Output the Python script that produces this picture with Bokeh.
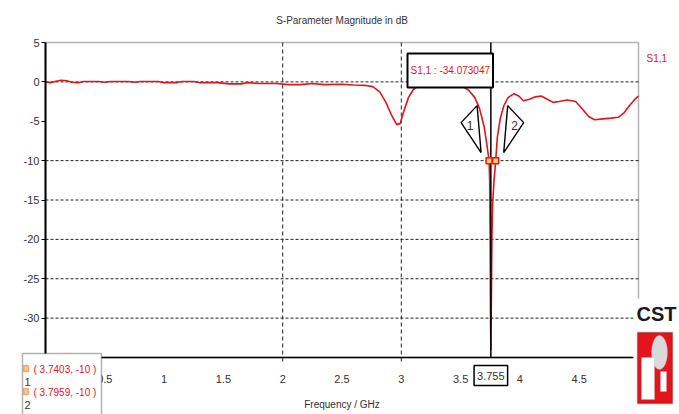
import numpy as np
from bokeh.plotting import figure
from bokeh.models import Range1d, FixedTicker, Label, BoxAnnotation, PolyAnnotation, LinearAxis
from bokeh.embed import file_html
from bokeh.resources import INLINE

# ---------------- data ----------------
freq_ghz = [0.00, 0.04, 0.08, 0.13, 0.18, 0.22, 0.28, 0.32, 0.45, 0.50, 0.55, 0.70, 0.75, 0.80,
            0.95, 1.00, 1.10, 1.15, 1.25, 1.30, 1.45, 1.55, 1.65, 1.70, 1.80, 1.95, 2.05, 2.15,
            2.25, 2.35, 2.50, 2.60, 2.70, 2.76, 2.82, 2.87, 2.92, 2.96, 2.99, 3.02, 3.06, 3.10,
            3.15, 3.25, 3.35, 3.45, 3.52, 3.57, 3.62, 3.66, 3.70, 3.72, 3.7403, 3.745, 3.749,
            3.752, 3.755, 3.759, 3.764, 3.770, 3.782, 3.7959, 3.81, 3.835, 3.865, 3.90, 3.95,
            3.99, 4.03, 4.08, 4.13, 4.18, 4.23, 4.28, 4.33, 4.40, 4.47, 4.53, 4.58, 4.63, 4.70,
            4.77, 4.83, 4.88, 4.93, 4.97, 5.00]
s11_db = [0.00, -0.10, 0.05, 0.20, 0.15, -0.05, -0.10, 0.05, 0.05, -0.05, 0.05, 0.05, -0.05, 0.05,
          0.05, -0.10, -0.10, 0.05, 0.05, -0.10, -0.10, -0.25, -0.25, -0.10, -0.20, -0.20, -0.35, -0.35,
          -0.20, -0.35, -0.30, -0.40, -0.45, -0.60, -1.30, -2.60, -4.30, -5.40, -5.30, -3.80, -2.00, -1.00,
          -0.40, -0.30, -0.30, -0.40, -0.60, -1.10, -2.00, -3.40, -5.80, -7.80, -10.0, -12.5, -19.5,
          -29.0, -34.07, -28.0, -20.0, -15.5, -12.5, -10.0, -7.0, -4.6, -3.0, -2.0, -1.5,
          -1.8, -2.4, -2.2, -1.9, -1.8, -2.2, -2.6, -2.5, -2.3, -2.5, -3.5, -4.4, -4.8, -4.7,
          -4.6, -4.5, -3.9, -2.9, -2.2, -1.8]

marker_names = ["1", "2"]
marker_freqs = [3.7403, 3.7959]
marker_levels = [-10, -10]
readout_freq = 3.755
readout_value = -34.073047

x_ticks = [0, 0.5, 1, 1.5, 2, 2.5, 3, 3.5, 4, 4.5]
y_ticks = [5, 0, -5, -10, -15, -20, -25, -30]
x_grid_lines = [2, 3]
y_grid_lines = [0, -10, -15, -20, -25, -30]

title_text = "S-Parameter Magnitude in dB"
x_label = "Frequency / GHz"
series_name = "S1,1"

# ---------------- layout ----------------
W, H = 679, 414
FL, FR, FT, FB = 45, 638, 42, 357          # plot area in page pixels
X0, X1, Y0, Y1 = 0.0, 5.0, -35.0, 5.0      # axis ranges
FONT = "Liberation Sans"
RED = "#e3141c"
INK = "#333333"


def dx(px):
    return X0 + (px - FL) * (X1 - X0) / (FR - FL)


def dy(py):
    return Y1 - (py - FT) * (Y1 - Y0) / (FB - FT)


def ox(px):
    return px * (X1 - X0) / (FR - FL)


def oy(px):
    return px * (Y1 - Y0) / (FB - FT)


p = figure(width=W, height=H, output_backend="svg", toolbar_location=None,
           x_range=Range1d(dx(0), dx(W)), y_range=Range1d(dy(H), dy(0)),
           x_axis_type=None, y_axis_type=None, min_border=0)
p.background_fill_color = "white"
p.border_fill_color = "white"
p.outline_line_color = None

# axes placed at the edges of the plot area
yaxis = LinearAxis(fixed_location=X0, bounds=(Y0, Y1), ticker=FixedTicker(ticks=y_ticks),
                   major_label_overrides={t: f"{t:g}" for t in y_ticks})
xaxis = LinearAxis(fixed_location=Y0, bounds=(X0, X1), ticker=FixedTicker(ticks=x_ticks),
                   major_label_overrides={t: f"{t:g}" for t in x_ticks})
for ax in (xaxis, yaxis):
    ax.axis_line_color = "black"
    ax.major_tick_line_color = "black"
    ax.minor_tick_line_color = None
    ax.major_tick_in = 0
    ax.major_label_text_font = FONT
    ax.major_label_text_font_size = "11px"
    ax.major_label_text_color = INK
yaxis.axis_line_width = 2
yaxis.major_tick_out = 4
yaxis.major_label_standoff = 2
xaxis.axis_line_width = 1.5
xaxis.major_tick_out = 0
xaxis.major_label_standoff = 17
xaxis.axis_label = x_label
xaxis.axis_label_text_font = FONT
xaxis.axis_label_text_font_size = "10px"
xaxis.axis_label_text_font_style = "normal"
xaxis.axis_label_text_color = INK
xaxis.axis_label_standoff = 13
p.add_layout(yaxis, "left")
p.add_layout(xaxis, "below")

# plot area border (top / right)
p.add_layout(BoxAnnotation(left=X0, right=X1, bottom=Y0, top=Y1, fill_alpha=0,
                           line_color="black", line_width=1.5, level="underlay"))

# grid lines (vertical ones poke slightly below the axis, as in the original)
p.segment(x0=x_grid_lines, y0=[Y0 - oy(4)] * len(x_grid_lines), x1=x_grid_lines,
          y1=[Y1] * len(x_grid_lines),
          line_color="#222222", line_width=1, line_dash="4 3", level="underlay")
p.segment(x0=[X0] * len(y_grid_lines), y0=y_grid_lines, x1=[X1] * len(y_grid_lines), y1=y_grid_lines,
          line_color="#222222", line_width=1, line_dash="3 2", level="underlay")

# curve
p.line(freq_ghz, s11_db, line_color=RED, line_width=1.6)

# marker line
p.segment(x0=[readout_freq], y0=[Y0], x1=[readout_freq], y1=[Y1], line_color="black", line_width=1.5)

# marker flags
xs, ys = [], []
for f, lv, s in zip(marker_freqs, marker_levels, [-1, 1]):
    offs = [(8, 8), (12, 55), (28, 38)]
    xs.append([f + s * ox(a) for a, b in offs])
    ys.append([lv + oy(b) for a, b in offs])
p.patches(xs, ys, fill_color="white", line_color="black", line_width=1.4)
for name, f, lv, s in zip(marker_names, marker_freqs, marker_levels, [-1, 1]):
    p.add_layout(Label(x=f + s * ox(19), y=lv + oy(35), text=name, text_align="center",
                       text_baseline="middle", text_font=FONT, text_font_size="12px",
                       text_color=INK))
p.scatter(marker_freqs, marker_levels, marker="square", size=6, line_color=RED,
          fill_color="#f3d070", line_width=1.5)

# readout box
p.add_layout(Label(x=dx(407), y=dy(53), text=f"{series_name} : {readout_value}",
                   text_align="left", text_baseline="top", text_font=FONT,
                   text_font_size="10px", text_color=RED, background_fill_color="white",
                   border_line_color="black", border_line_width=2,
                   padding=dict(left=3, right=3, top=11, bottom=12)))

# boxed frequency of the marker line under the axis
p.add_layout(Label(x=readout_freq, y=dy(365), text=f"{readout_freq}", text_align="center",
                   text_baseline="top", text_font=FONT, text_font_size="11px",
                   text_color=INK, background_fill_color="white",
                   border_line_color="black", border_line_width=1.5,
                   padding=dict(left=3, right=3, top=6, bottom=6)))

# title and series name
p.add_layout(Label(x=dx((FL + FR) / 2), y=dy(20), text=title_text, text_align="center",
                   text_baseline="middle", text_font=FONT, text_font_size="10px",
                   text_color=INK))
p.add_layout(Label(x=dx(646), y=dy(58), text=series_name, text_align="left",
                   text_baseline="middle", text_font=FONT, text_font_size="10px",
                   text_color=RED))

# marker table box (bottom-left)
p.add_layout(BoxAnnotation(left=dx(22), right=dx(101), top=dy(353), bottom=dy(430),
                           fill_color="white", fill_alpha=1, line_color="black", line_width=1.5))
for i, (name, f, lv) in enumerate(zip(marker_names, marker_freqs, marker_levels)):
    yc = 368 + 23 * i
    p.add_layout(BoxAnnotation(left=dx(23), right=dx(28), top=dy(yc - 3), bottom=dy(yc + 3),
                               fill_color="#f3d070", fill_alpha=1, line_color=RED, line_width=1.5))
    p.add_layout(Label(x=dx(27), y=dy(yc + 13), text=name, text_align="center",
                       text_baseline="middle", text_font=FONT, text_font_size="11px",
                       text_color=INK))
    p.add_layout(Label(x=dx(33), y=dy(yc + 1), text=f"( {f}, {lv} )", text_align="left",
                       text_baseline="middle", text_font=FONT, text_font_size="10px",
                       text_color=RED))

# CST logo
p.add_layout(BoxAnnotation(left=dx(633), right=dx(679), top=dy(298), bottom=dy(414),
                           fill_color="white", fill_alpha=1, line_alpha=0))
p.add_layout(Label(x=dx(656), y=dy(313), text="CST", text_align="center", text_baseline="middle",
                   text_font=FONT, text_font_size="20px", text_font_style="bold",
                   text_color="#1a1a1a"))
p.add_layout(BoxAnnotation(left=dx(637), right=dx(672), top=dy(332), bottom=dy(403),
                           fill_color="#e3141c", fill_alpha=1, line_color="#5a0a0a", line_width=1.5))
t = np.linspace(0, 2 * np.pi, 40)
p.add_layout(PolyAnnotation(xs=list(dx(659) + ox(8) * np.cos(t)), ys=list(dy(352) + oy(17) * np.sin(t)),
                            fill_color="#d9d9d9", fill_alpha=1, line_color="#9a9a9a", line_width=1))
p.add_layout(BoxAnnotation(left=dx(641), right=dx(654), top=dy(357), bottom=dy(399),
                           fill_color="white", fill_alpha=1, line_color="#bbbbbb", line_width=1))
p.add_layout(BoxAnnotation(left=dx(660), right=dx(666), top=dy(371), bottom=dy(391),
                           fill_color="white", fill_alpha=1, line_color="#bbbbbb", line_width=1))

open("out.html", "w").write(file_html(p, INLINE))
